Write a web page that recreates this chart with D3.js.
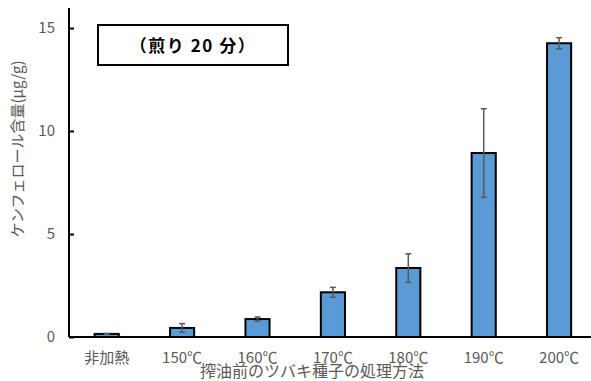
<!DOCTYPE html>
<html>
<head>
<meta charset="utf-8">
<script src="https://cdn.jsdelivr.net/npm/d3@7"></script>
<style>
  body { margin: 0; background: #fff; }
  svg { display: block; font-family: "Noto Sans CJK JP", "Noto Sans", sans-serif; }
</style>
</head>
<body>
<div id="chart"></div>
<script>
// data
const categories = ['非加熱', '150℃', '160℃', '170℃', '180℃', '190℃', '200℃'];
const values = [0.15, 0.44, 0.87, 2.17, 3.35, 8.93, 14.26];
const errors = [0.02, 0.21, 0.1, 0.24, 0.69, 2.15, 0.27];
const yTicks = [0, 5, 10, 15];

const width = 591, height = 381;
const margin = { left: 69, top: 8 };

const svg = d3.select('#chart')
  .append('svg')
  .attr('width', width)
  .attr('height', height);

const x = d3.scaleBand()
  .domain(categories)
  .range([margin.left, margin.left + 7 * 75.4])
  .paddingInner(0.68)
  .paddingOuter(0.34);

const y = d3.scaleLinear()
  .domain([0, 15])
  .range([337, 28]);

// bars
svg.selectAll('rect.bar')
  .data(values)
  .enter()
  .append('rect')
    .attr('class', 'bar')
    .attr('x', (d, i) => x(categories[i]))
    .attr('y', d => y(d))
    .attr('width', x.bandwidth())
    .attr('height', d => y(0) - y(d))
    .attr('fill', '#5b9bd5')
    .attr('stroke', '#000')
    .attr('stroke-width', 2);

// error bars
const eb = svg.append('g')
  .attr('stroke', '#595959')
  .attr('stroke-width', 1.5);

values.forEach((v, i) => {
  const cx = x(categories[i]) + x.bandwidth() / 2;
  const top = y(v + errors[i]), bot = y(v - errors[i]);
  eb.append('line').attr('x1', cx).attr('x2', cx).attr('y1', top).attr('y2', bot);
  eb.append('line').attr('x1', cx - 3).attr('x2', cx + 3).attr('y1', top).attr('y2', top);
  eb.append('line').attr('x1', cx - 3).attr('x2', cx + 3).attr('y1', bot).attr('y2', bot);
});

// y axis (ticks inside)
const yAxis = d3.axisRight(y)
  .tickValues(yTicks)
  .tickSize(5)
  .tickFormat('');

const gy = svg.append('g')
  .attr('transform', `translate(${margin.left}, 0)`)
  .call(yAxis);
gy.select('.domain').remove();
gy.selectAll('line').attr('stroke', '#000').attr('stroke-width', 2);

svg.append('line')
  .attr('x1', margin.left).attr('x2', margin.left)
  .attr('y1', margin.top).attr('y2', y(0))
  .attr('stroke', '#000').attr('stroke-width', 2);

svg.append('g').selectAll('text')
  .data(yTicks)
  .enter()
  .append('text')
    .attr('x', 55)
    .attr('y', d => y(d))
    .attr('dy', '0.35em')
    .attr('text-anchor', 'end')
    .attr('fill', '#595959')
    .style('font-size', '15px')
    .text(d => d);

// x axis
svg.append('line')
  .attr('x1', margin.left).attr('x2', width)
  .attr('y1', y(0)).attr('y2', y(0))
  .attr('stroke', '#000').attr('stroke-width', 2);

svg.append('g').selectAll('text')
  .data(categories)
  .enter()
  .append('text')
    .attr('x', d => x(d) + x.bandwidth() / 2)
    .attr('y', 358)
    .attr('dy', '0.35em')
    .attr('text-anchor', 'middle')
    .attr('fill', '#595959')
    .style('font-size', '15px')
    .text(d => d);

// axis titles
svg.append('text')
  .attr('x', 312)
  .attr('y', 371)
  .attr('dy', '0.35em')
  .attr('text-anchor', 'middle')
  .attr('fill', '#595959')
  .style('font-size', '16px')
  .text('搾油前のツバキ種子の処理方法');

svg.append('text')
  .attr('transform', 'translate(18, 149) rotate(-90)')
  .attr('dy', '0.35em')
  .attr('text-anchor', 'middle')
  .attr('fill', '#595959')
  .style('font-size', '15px')
  .text('ケンフェロール含量(μg/g)');

// title box
svg.append('rect')
  .attr('x', 98).attr('y', 25)
  .attr('width', 190).attr('height', 40)
  .attr('fill', '#fff')
  .attr('stroke', '#000')
  .attr('stroke-width', 2);

svg.append('text')
  .attr('x', 193)
  .attr('y', 46)
  .attr('dy', '0.35em')
  .attr('text-anchor', 'middle')
  .attr('fill', '#000')
  .style('font-size', '17px')
  .style('font-weight', 'bold')
  .style('letter-spacing', '1.5px')
  .text('（煎り 20 分）');
</script>
</body>
</html>
